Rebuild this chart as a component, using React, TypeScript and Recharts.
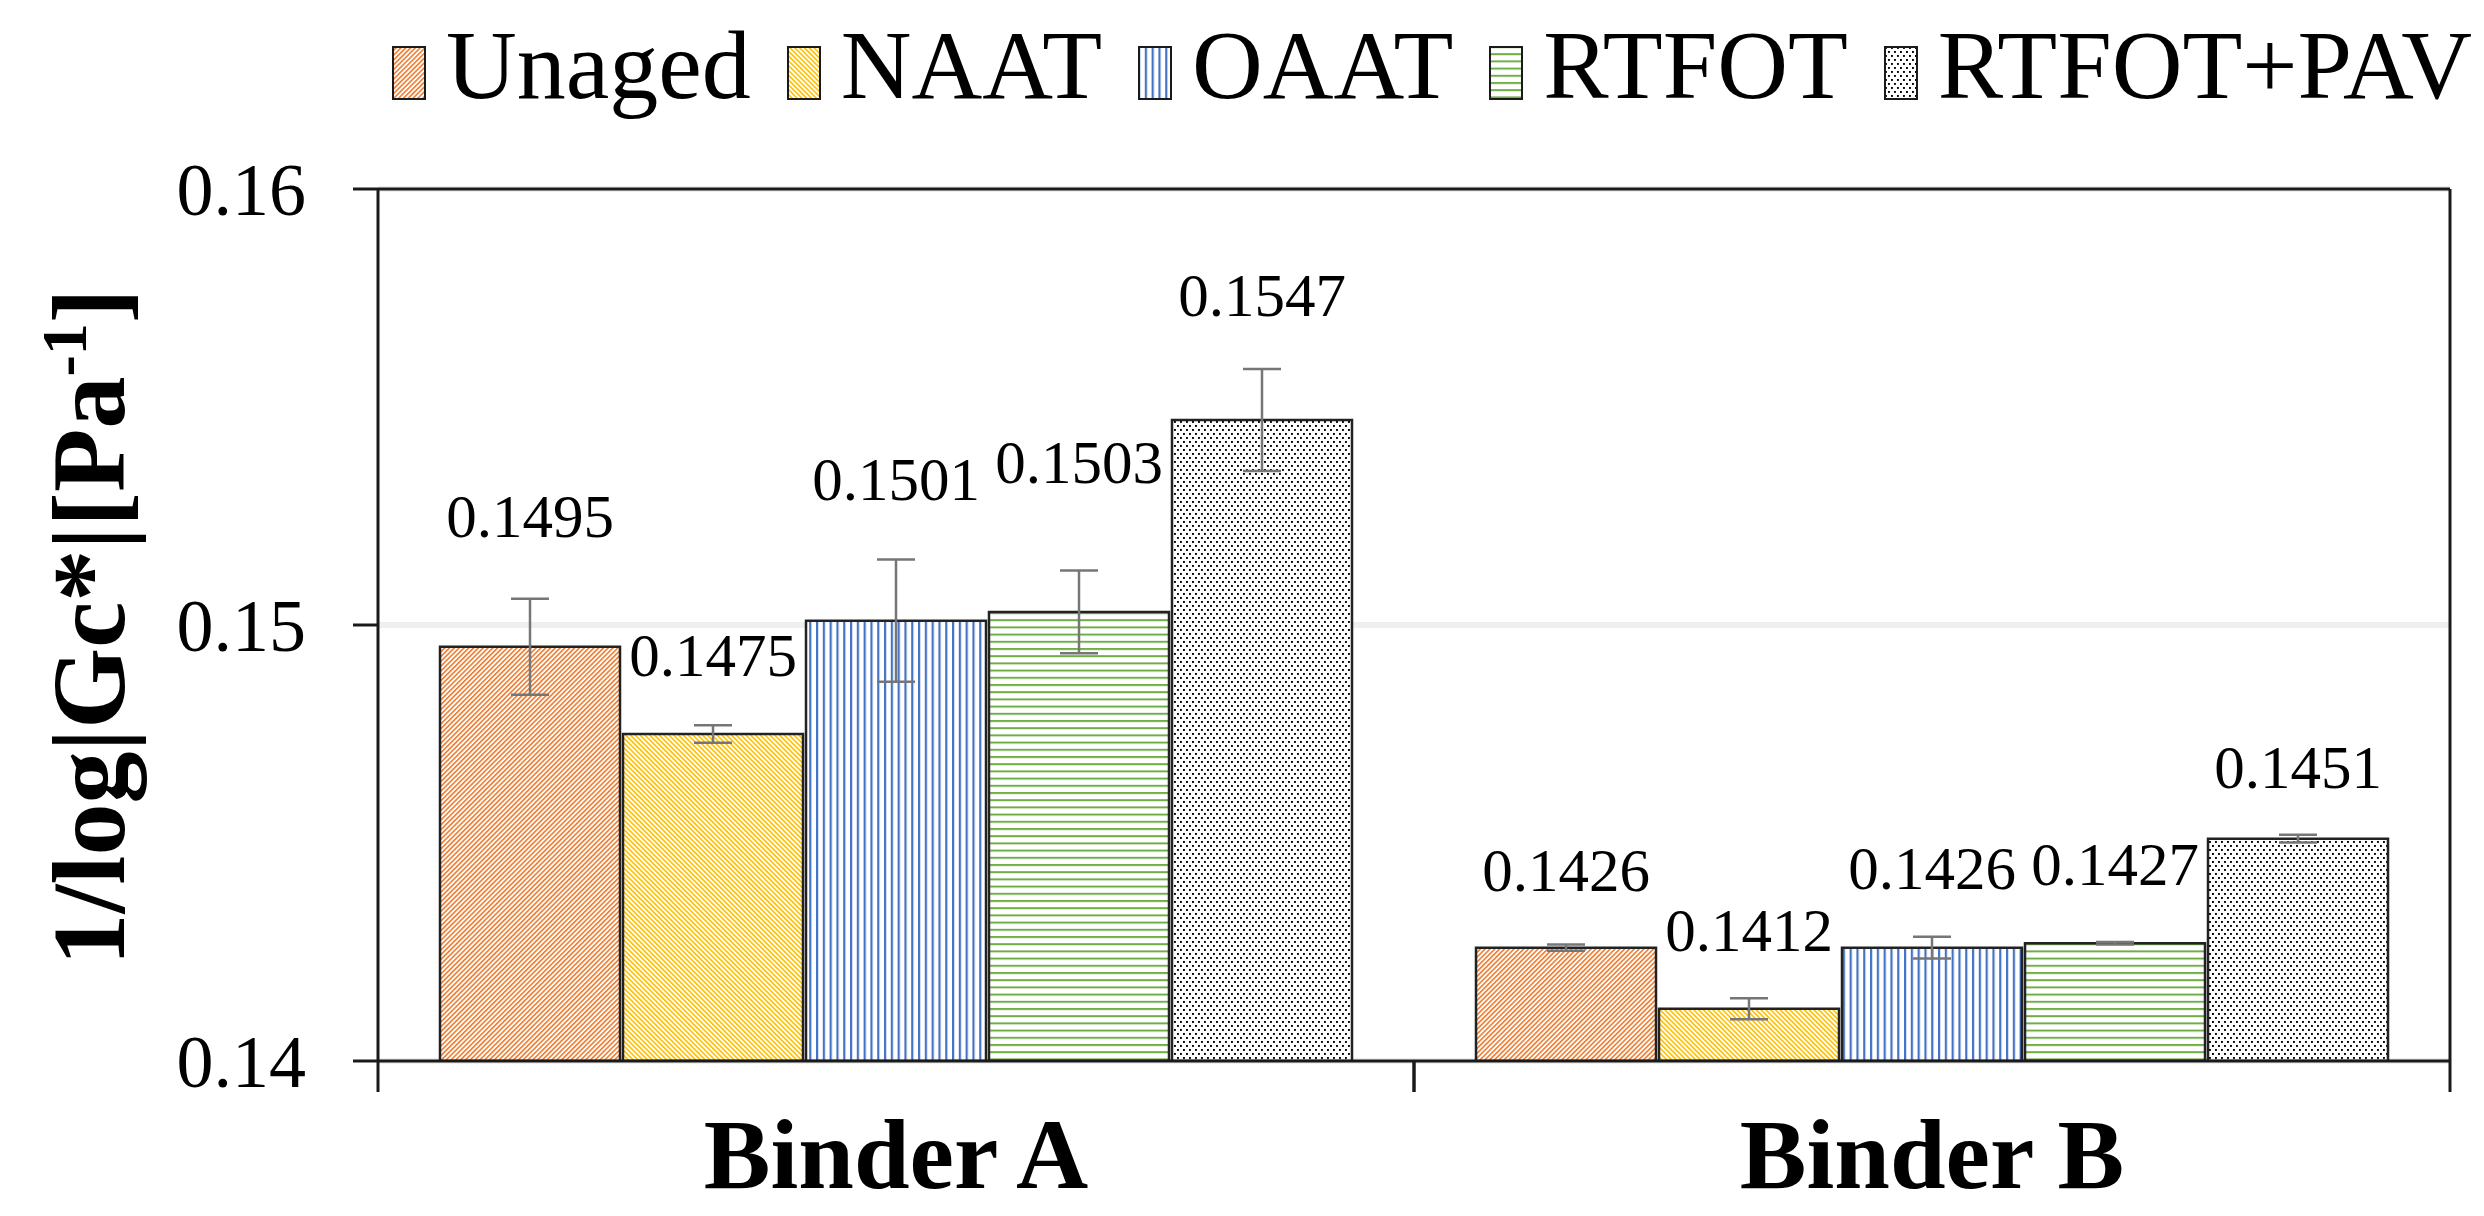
import React from "react";
import {
  Bar,
  BarChart,
  CartesianGrid,
  ErrorBar,
  LabelList,
  Legend,
  ReferenceLine,
  XAxis,
  YAxis,
} from "recharts";

const categories = ["Binder A", "Binder B"];

const unaged = [0.1495, 0.1426];
const naat = [0.1475, 0.1412];
const oaat = [0.1501, 0.1426];
const rtfot = [0.1503, 0.1427];
const rtfotPav = [0.1547, 0.1451];

const unagedErr = [0.0011, 0.00007];
const naatErr = [0.0002, 0.00024];
const oaatErr = [0.0014, 0.00025];
const rtfotErr = [0.00095, 0.00003];
const rtfotPavErr = [0.00117, 0.00009];

const yTicks = [0.14, 0.15, 0.16];

const data = categories.map((name, i) => ({
  name,
  unaged: unaged[i],
  unagedErr: unagedErr[i],
  naat: naat[i],
  naatErr: naatErr[i],
  oaat: oaat[i],
  oaatErr: oaatErr[i],
  rtfot: rtfot[i],
  rtfotErr: rtfotErr[i],
  rtfotPav: rtfotPav[i],
  rtfotPavErr: rtfotPavErr[i],
}));

const series = [
  { key: "unaged", name: "Unaged", fill: "url(#p-unaged)" },
  { key: "naat", name: "NAAT", fill: "url(#p-naat)" },
  { key: "oaat", name: "OAAT", fill: "url(#p-oaat)" },
  { key: "rtfot", name: "RTFOT", fill: "url(#p-rtfot)" },
  { key: "rtfotPav", name: "RTFOT+PAV", fill: "url(#p-pav)" },
];

// how far above the bar top each value label sits (px), per category
const labelLift: Record<string, number[]> = {
  unaged: [131, 78],
  naat: [79, 79],
  oaat: [142, 80],
  rtfot: [150, 80],
  rtfotPav: [125, 72],
};

const W = 2484;
const H = 1216;
const FONT = "'Liberation Serif', 'Times New Roman', serif";
const LEFT = 378;
const RIGHT_W = 34;
const X_H = 155;
const LEGEND_H = 120;
const BAND = (W - LEFT - RIGHT_W) / categories.length;
const AXIS = "#1a1a1a";

function Patterns() {
  return (
    <svg width={0} height={0} style={{ position: "absolute" }}>
      <defs>
        <pattern id="p-unaged" patternUnits="userSpaceOnUse" width={3.4} height={3.4} patternTransform="rotate(45)">
          <rect width={3.4} height={3.4} fill="#fff" />
          <rect width={1.6} height={3.4} fill="#ED7D31" />
        </pattern>
        <pattern id="p-naat" patternUnits="userSpaceOnUse" width={3.4} height={3.4} patternTransform="rotate(-45)">
          <rect width={3.4} height={3.4} fill="#fff" />
          <rect width={1.6} height={3.4} fill="#FFC000" />
        </pattern>
        <pattern id="p-oaat" patternUnits="userSpaceOnUse" width={6.8} height={10}>
          <rect width={6.8} height={10} fill="#fff" />
          <rect width={2.2} height={10} fill="#4472C4" />
        </pattern>
        <pattern id="p-rtfot" patternUnits="userSpaceOnUse" width={10} height={7.2}>
          <rect width={10} height={7.2} fill="#fff" />
          <rect width={10} height={2} fill="#70AD47" />
        </pattern>
        <pattern id="p-pav" patternUnits="userSpaceOnUse" width={6} height={8}>
          <rect width={6} height={8} fill="#fff" />
          <rect x={1} y={1} width={1.9} height={1.9} fill="#000" />
          <rect x={4} y={5} width={1.9} height={1.9} fill="#000" />
        </pattern>
      </defs>
    </svg>
  );
}

function renderLegend() {
  return (
    <div
      style={{
        display: "flex",
        justifyContent: "flex-end",
        alignItems: "flex-start",
        height: LEGEND_H,
        paddingTop: 16,
        paddingRight: 12,
        boxSizing: "border-box",
        fontFamily: FONT,
        fontSize: 98,
        lineHeight: 1,
        color: "#000",
      }}
    >
      {series.map((s) => (
        <div key={s.key} style={{ display: "flex", alignItems: "flex-start", marginLeft: 36 }}>
          <svg width={34} height={54} style={{ marginTop: 30, marginRight: 20 }}>
            <rect x={1} y={1} width={32} height={52} fill={s.fill} stroke={AXIS} strokeWidth={2} />
          </svg>
          <span style={{ whiteSpace: "nowrap" }}>{s.name}</span>
        </div>
      ))}
    </div>
  );
}

function CategoryTick(props: any) {
  const { x, y, payload } = props;
  return (
    <g>
      <line x1={x - BAND / 2} x2={x - BAND / 2} y1={y} y2={y + 31} stroke={AXIS} strokeWidth={3} />
      <line x1={x + BAND / 2} x2={x + BAND / 2} y1={y} y2={y + 31} stroke={AXIS} strokeWidth={3} />
      <text x={x} y={y + 127} textAnchor="middle" fontFamily={FONT} fontWeight="bold" fontSize={100} fill="#000">
        {payload.value}
      </text>
    </g>
  );
}

function YTitle(props: any) {
  const vb = props.viewBox || { y: 189, height: 872 };
  const cx = 124;
  const cy = vb.y + vb.height / 2 + 2;
  return (
    <text
      x={cx}
      y={cy}
      transform={`rotate(-90, ${cx}, ${cy})`}
      textAnchor="middle"
      fontFamily={FONT}
      fontWeight="bold"
      fontSize={104}
      fill="#000"
    >
      1/log|Gc*|[Pa
      <tspan fontSize={64} dy={-38}>-1</tspan>
      <tspan dy={38}>]</tspan>
    </text>
  );
}

const makeValueLabel = (lifts: number[]) => (p: any) => {
  const { x, y, width, index, value } = p;
  const lift = lifts[index] ?? 80;
  return (
    <text
      x={Number(x) + Number(width) / 2}
      y={Number(y) - lift}
      dy="0.35em"
      textAnchor="middle"
      fontFamily={FONT}
      fontSize={61}
      fill="#000"
    >
      {Number(value).toFixed(4)}
    </text>
  );
};

export default function App() {
  return (
    <div style={{ position: "absolute", left: 0, top: 0, width: W, height: H, background: "#fff" }}>
      <Patterns />
      <BarChart
        width={W}
        height={H}
        data={data}
        margin={{ top: 189 - LEGEND_H, right: 0, bottom: 0, left: 0 }}
        barCategoryGap={62}
        barGap={3}
      >
        <CartesianGrid vertical={false} stroke="#efefef" strokeWidth={6} />
        <XAxis
          dataKey="name"
          interval={0}
          height={X_H}
          tickSize={0}
          tickMargin={0}
          tickLine={false}
          axisLine={{ stroke: AXIS, strokeWidth: 3 }}
          tick={<CategoryTick />}
        />
        <YAxis
          width={LEFT}
          domain={[0.14, 0.16]}
          ticks={yTicks}
          allowDataOverflow
          tickFormatter={(v: number) => v.toFixed(2)}
          tick={{ fill: "#000", fontSize: 74, fontFamily: FONT }}
          tickSize={25}
          tickMargin={47}
          tickLine={{ stroke: AXIS, strokeWidth: 3 }}
          axisLine={{ stroke: AXIS, strokeWidth: 3 }}
          label={{ content: <YTitle /> }}
        />
        <YAxis
          yAxisId="right"
          orientation="right"
          width={RIGHT_W}
          domain={[0.14, 0.16]}
          tick={false}
          tickLine={false}
          axisLine={{ stroke: AXIS, strokeWidth: 3 }}
        />
        <Legend verticalAlign="top" content={renderLegend} wrapperStyle={{ top: 0, left: 0, width: W, height: LEGEND_H }} />
        {series.map((s) => (
          <Bar
            key={s.key}
            dataKey={s.key}
            name={s.name}
            fill={s.fill}
            stroke="#222"
            strokeWidth={2.5}
            isAnimationActive={false}
          >
            <ErrorBar dataKey={`${s.key}Err`} width={19} stroke="#767676" strokeWidth={2.5} />
            <LabelList dataKey={s.key} content={makeValueLabel(labelLift[s.key])} />
          </Bar>
        ))}
        <ReferenceLine y={0.16} stroke={AXIS} strokeWidth={3} />
      </BarChart>
    </div>
  );
}
